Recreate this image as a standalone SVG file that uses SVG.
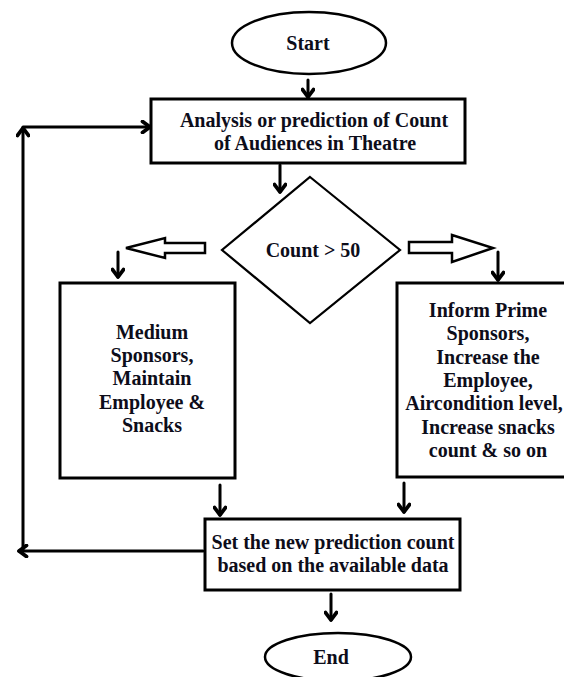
<svg xmlns="http://www.w3.org/2000/svg" width="564" height="677" viewBox="0 0 564 677">
<defs>
<style>
.box{fill:#fff;stroke:#000;stroke-width:3}
.oval{fill:#fff;stroke:#000;stroke-width:2.5}
.dia{fill:#fff;stroke:#000;stroke-width:2.2}
.hollow{fill:#fff;stroke:#000;stroke-width:2.5;stroke-linejoin:miter}
.con{fill:none;stroke:#000;stroke-width:3;stroke-linecap:round}
.lbl{font-family:"Liberation Serif","Times New Roman",serif;font-weight:bold;font-size:20px;fill:#0d0d1a;text-anchor:middle}
</style>
<marker id="chev" viewBox="0 0 12 14" refX="10" refY="7" markerWidth="12" markerHeight="14" markerUnits="userSpaceOnUse" orient="auto">
<path d="M2.5,1.5 L10,7 L2.5,12.5" fill="none" stroke="#000" stroke-width="3.8" stroke-linecap="round" stroke-linejoin="round"/>
</marker>
</defs>
<rect width="564" height="677" fill="#fff"/>
<g id="connectors">
<path class="con" d="M308,80 V97" marker-end="url(#chev)"/>
<path class="con" d="M280,165 V192" marker-end="url(#chev)"/>
<path class="con" d="M118,252 V277" marker-end="url(#chev)"/>
<path class="con" d="M498,252 V280" marker-end="url(#chev)"/>
<path class="con" d="M220,485 V515" marker-end="url(#chev)"/>
<path class="con" d="M404,483 V512" marker-end="url(#chev)"/>
<path class="con" d="M331,594 V620" marker-end="url(#chev)"/>
<path class="con" d="M203,551 H19" marker-end="url(#chev)"/>
<path class="con" d="M23,551 V128" marker-end="url(#chev)"/>
<path class="con" d="M23,127 H150" marker-end="url(#chev)"/>
<polygon class="hollow" points="205,243 165,243 165,238 126,248 165,258 165,253 205,253"/>
<polygon class="hollow" points="409,242 452,242 452,235 493,248 452,262 452,253 409,253"/>
</g>
<g id="start">
<ellipse class="oval" cx="309" cy="43" rx="77" ry="31"/>
<text class="lbl" x="308" y="50">Start</text>
</g>
<g id="analysis">
<rect class="box" x="151" y="99" width="314" height="64"/>
<text class="lbl" x="314" y="127">Analysis or prediction of Count</text>
<text class="lbl" x="315" y="150">of Audiences in Theatre</text>
</g>
<g id="decision">
<polygon class="dia" points="310,177 400,250 310,323 222,250"/>
<text class="lbl" x="313" y="257">Count &gt; 50</text>
</g>
<g id="medium">
<rect class="box" x="60" y="283" width="175" height="195"/>
<text class="lbl" x="152" y="339">Medium</text>
<text class="lbl" x="152" y="362">Sponsors,</text>
<text class="lbl" x="152" y="385">Maintain</text>
<text class="lbl" x="152" y="409">Employee &amp;</text>
<text class="lbl" x="152" y="432">Snacks</text>
</g>
<g id="prime">
<rect class="box" x="397" y="283" width="169" height="194"/>
<text class="lbl" x="488" y="317">Inform Prime</text>
<text class="lbl" x="488" y="340">Sponsors,</text>
<text class="lbl" x="488" y="364">Increase the</text>
<text class="lbl" x="488" y="387">Employee,</text>
<text class="lbl" x="484" y="410">Aircondition level,</text>
<text class="lbl" x="488" y="434">Increase snacks</text>
<text class="lbl" x="488" y="457">count &amp; so on</text>
</g>
<g id="setcount">
<rect class="box" x="205" y="519" width="255" height="71"/>
<text class="lbl" x="333" y="549">Set the new prediction count</text>
<text class="lbl" x="333" y="572">based on the available data</text>
</g>
<g id="end">
<ellipse class="oval" cx="338" cy="657" rx="73" ry="24"/>
<text class="lbl" x="331" y="664">End</text>
</g>
</svg>
